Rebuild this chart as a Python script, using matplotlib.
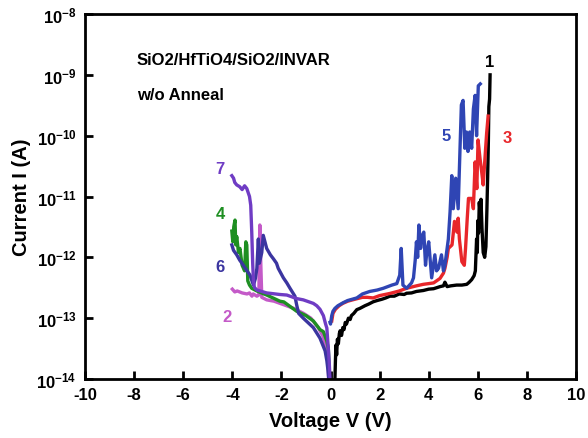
import numpy as np
import matplotlib
matplotlib.use("Agg")
import matplotlib.pyplot as plt

plt.rcParams['font.family'] = ['Liberation Sans', 'DejaVu Sans']
plt.rcParams['font.weight'] = 'bold'
plt.rcParams['mathtext.fontset'] = 'custom'
plt.rcParams['mathtext.bf'] = 'Liberation Sans:bold'
plt.rcParams['mathtext.rm'] = 'Liberation Sans:bold'

# curve 1 (black)
v1 = [0.18, 0.20, 0.22, 0.25, 0.28, 0.32, 0.36, 0.39, 0.45, 0.5, 0.55, 0.6, 0.65, 0.73,
      0.8, 0.85, 0.95, 1.07, 1.2, 1.4, 1.55, 1.74, 1.9, 2.1, 2.25, 2.42, 2.6, 2.8, 3.0,
      3.1, 3.3, 3.5, 3.78, 4.0, 4.2, 4.46, 4.6, 4.66, 4.75, 4.9, 5.14, 5.35, 5.55, 5.65,
      5.75, 5.85, 5.9, 5.95, 5.98, 6.0, 6.03, 6.06, 6.1, 6.13, 6.17, 6.22, 6.28, 6.33,
      6.37, 6.4, 6.43, 6.45, 6.48, 6.5]
i1 = [1.0e-14, 2.0e-14, 3.6e-14, 2.5e-14, 4.5e-14, 3.8e-14, 5.6e-14, 6.2e-14, 5.2e-14,
      7.0e-14, 6.5e-14, 8.5e-14, 8.0e-14, 1.0e-13, 9.5e-14, 1.1e-13, 1.2e-13, 1.38e-13,
      1.45e-13, 1.6e-13, 1.7e-13, 1.86e-13, 1.95e-13, 2.05e-13, 2.15e-13, 2.3e-13,
      2.3e-13, 2.5e-13, 2.45e-13, 2.57e-13, 2.6e-13, 2.75e-13, 2.85e-13, 3.0e-13, 3.05e-13,
      3.3e-13, 3.4e-13, 3.9e-13, 3.3e-13, 3.4e-13, 3.5e-13, 3.5e-13, 3.6e-13, 3.9e-13,
      4.3e-13, 5.0e-13, 6.0e-13, 2.0e-12, 1.2e-12, 4.0e-12, 2.5e-12, 8.0e-12, 5.0e-12,
      9.0e-12, 3.0e-12, 1.2e-12, 1.0e-12, 1.5e-12, 6.0e-12, 2.0e-11, 8.0e-11, 3.0e-10,
      4.0e-10, 1.0e-9]

# curve 3 (red)
v3 = [0.05, 0.1, 0.2, 0.35, 0.5, 0.7, 0.9, 1.1, 1.3, 1.5, 1.74, 2.0, 2.42, 2.8, 3.1, 3.5,
      3.78, 4.0, 4.2, 4.46, 4.6, 4.66, 4.75, 4.8, 4.95, 5.05, 5.15, 5.2, 5.25, 5.35, 5.45,
      5.5, 5.57, 5.62, 5.75, 5.82, 5.89, 5.96, 6.01, 6.09, 6.16, 6.22, 6.29, 6.36, 6.42]
i3 = [9e-14, 1.2e-13, 1.4e-13, 1.6e-13, 1.75e-13, 1.9e-13, 2.0e-13, 2.1e-13, 2.2e-13,
      2.2e-13, 2.15e-13, 2.35e-13, 2.55e-13, 2.8e-13, 3.1e-13, 3.4e-13, 3.6e-13, 3.7e-13,
      3.8e-13, 4.5e-13, 5.5e-13, 6.6e-13, 1.0e-12, 1.4e-12, 1.6e-12, 3.9e-12, 2.6e-12,
      4.4e-12, 2.0e-12, 8.5e-13, 7.4e-13, 1.4e-12, 4.4e-12, 9.3e-12, 9.3e-12, 6.3e-12,
      3.7e-11, 1.35e-11, 8.5e-11, 4.2e-11, 2.5e-11, 1.55e-11, 4.2e-11, 1.1e-10, 2.1e-10]

# curve 5 (blue)
v5 = [-0.02, 0.0, 0.05, 0.1, 0.18, 0.3, 0.52, 0.7, 1.07, 1.3, 1.6, 1.9, 2.15, 2.5, 2.7,
      2.82, 2.88, 2.95, 3.1, 3.3, 3.38, 3.45, 3.5, 3.55, 3.6, 3.67, 3.72, 3.8, 3.87, 3.93,
      4.0, 4.12, 4.25, 4.32, 4.4, 4.52, 4.6, 4.66, 4.8, 4.87, 4.94, 5.0, 5.1, 5.2, 5.33,
      5.4, 5.47, 5.54, 5.6, 5.67, 5.75, 5.82, 5.89, 5.95, 6.02, 6.1]
i5 = [8.5e-14, 8.0e-14, 1.1e-13, 1.3e-13, 1.45e-13, 1.6e-13, 1.8e-13, 1.95e-13, 2.15e-13,
      2.5e-13, 2.75e-13, 2.9e-13, 3.1e-13, 3.5e-13, 3.7e-13, 5.1e-13, 1.4e-12, 3.5e-13,
      3.1e-13, 3.8e-13, 4.6e-13, 9e-13, 1.8e-12, 1.0e-12, 3.4e-12, 1.4e-12, 2.2e-12,
      2.6e-12, 7.4e-13, 1.3e-12, 1.8e-12, 4.6e-13, 1.1e-12, 6.0e-13, 6.6e-13, 1.1e-12,
      6.0e-13, 7.4e-13, 2.0e-12, 5.6e-12, 2.2e-11, 6.3e-12, 2.0e-11, 6.3e-12, 3.2e-10,
      3.8e-10, 6.2e-11, 1.15e-10, 5.5e-11, 1.15e-10, 6.2e-11, 2.75e-10, 4.6e-10, 1.0e-10,
      6.6e-10, 7.1e-10]

# curve 2 (magenta)
v2 = [-4.0, -3.9, -3.8, -3.6, -3.4, -3.3, -3.2, -3.15, -3.0, -2.92, -2.88, -2.84, -2.8,
      -2.6, -2.3, -1.9, -1.5, -1.1, -0.8, -0.5, -0.3, -0.2, -0.12, -0.08]
i2 = [3.0e-13, 2.7e-13, 2.8e-13, 2.6e-13, 2.5e-13, 2.6e-13, 2.3e-13, 2.5e-13, 2.3e-13,
      2.4e-13, 3.4e-12, 8e-13, 2.2e-13, 2.0e-13, 1.9e-13, 1.66e-13, 1.45e-13, 1.2e-13,
      1.0e-13, 7e-14, 5e-14, 3.5e-14, 2.5e-14, 1.0e-14]

# curve 4 (green)
v4 = [-4.02, -3.98, -3.94, -3.89, -3.86, -3.82, -3.75, -3.69, -3.6, -3.5, -3.45, -3.41,
      -3.37, -3.3, -3.21, -3.0, -2.6, -2.06, -1.9, -1.38, -1.0, -0.7, -0.43, -0.29, -0.15,
      -0.09, -0.05]
i4 = [2.7e-12, 1.8e-12, 3.2e-12, 4.1e-12, 1.6e-12, 2.2e-12, 1.2e-12, 1.4e-12, 7.4e-13,
      6.0e-13, 1.8e-12, 1.6e-12, 4.1e-13, 3.5e-13, 3.1e-13, 2.8e-13, 2.4e-13, 1.9e-13,
      1.85e-13, 1.3e-13, 1.1e-13, 9e-14, 6.5e-14, 6e-14, 4.2e-14, 3.2e-14, 1.5e-14]

# curve 6 (indigo)
v6 = [-4.02, -3.95, -3.82, -3.7, -3.55, -3.4, -3.28, -3.14, -3.06, -3.0, -2.94, -2.9,
      -2.8, -2.74, -2.6, -2.45, -2.33, -2.2, -2.13, -1.92, -1.78, -1.65, -1.45, -1.38,
      -1.3, -1.11, -0.7, -0.43, -0.22, -0.15, -0.1, -0.07]
i6 = [1.6e-12, 1.3e-12, 1.1e-12, 9e-13, 7.4e-13, 6.0e-13, 5.1e-13, 3.5e-13, 4.5e-13,
      6.6e-13, 2.0e-12, 8e-13, 1.2e-12, 2.3e-12, 1.4e-12, 1.1e-12, 9.5e-13, 8e-13,
      6.6e-13, 4.6e-13, 3.8e-13, 3.1e-13, 2.3e-13, 1.66e-13, 1.2e-13, 1.0e-13, 7e-14,
      4.7e-14, 2.9e-14, 2.0e-14, 1.35e-14, 1.0e-14]

# curve 7 (purple)
v7 = [-4.02, -3.95, -3.9, -3.82, -3.7, -3.6, -3.5, -3.41, -3.3, -3.25, -3.21, -3.17,
      -3.14, -3.1, -3.0, -2.6, -2.06, -1.78, -1.38, -1.11, -0.7, -0.56, -0.43, -0.29,
      -0.2, -0.15, -0.09, -0.05, -0.02]
i7 = [2.2e-11, 2.0e-11, 1.7e-11, 1.55e-11, 1.45e-11, 1.3e-11, 1.5e-11, 1.35e-11, 1.0e-11,
      7.2e-12, 2.7e-12, 8e-13, 4.1e-13, 3.2e-13, 2.9e-13, 2.6e-13, 2.45e-13, 2.4e-13,
      2.1e-13, 2.0e-13, 1.75e-13, 1.6e-13, 1.4e-13, 1.1e-13, 8e-14, 6.9e-14, 3.2e-14,
      1.8e-14, 1.0e-14]

ytick_vals = [1e-14, 1e-13, 1e-12, 1e-11, 1e-10, 1e-9, 1e-8]
ytick_labels = [r'$\mathbf{10^{-14}}$', r'$\mathbf{10^{-13}}$', r'$\mathbf{10^{-12}}$',
                r'$\mathbf{10^{-11}}$', r'$\mathbf{10^{-10}}$', r'$\mathbf{10^{-9}}$',
                r'$\mathbf{10^{-8}}$']
xtick_vals = [-10, -8, -6, -4, -2, 0, 2, 4, 6, 8, 10]

fig = plt.figure(figsize=(5.88, 4.39), dpi=100)
ax = fig.add_axes([0.1446, 0.1344, 0.835, 0.8314])

lw = 2.4
ax.plot(v2, i2, color='#c45ac8', lw=lw)
ax.plot(v4, i4, color='#1e8f22', lw=lw)
ax.plot(v6, i6, color='#3b35a0', lw=lw)
ax.plot(v7, i7, color='#6f3cc4', lw=lw)
ax.plot(v1, i1, color='black', lw=lw)
ax.plot(v3, i3, color='#e8262a', lw=lw)
ax.plot(v5, i5, color='#2f45b4', lw=lw)

ax.set_yscale('log')
ax.set_xlim(-10, 10)
ax.set_ylim(1e-14, 1e-8)
ax.set_xticks(xtick_vals)
ax.set_xticklabels([str(v) for v in xtick_vals])
ax.set_yticks(ytick_vals)
ax.set_yticklabels(ytick_labels)
ax.minorticks_off()
ax.tick_params(direction='in', length=6, width=2, labelsize=12, pad=6)
for s in ax.spines.values():
    s.set_linewidth(2)

ax.set_xlabel('Voltage V (V)', fontsize=14.5, fontweight='bold', labelpad=6)
ax.set_ylabel('Current I (A)', fontsize=14.5, fontweight='bold', labelpad=4)

ax.text(-7.9, 1.5e-9, 'SiO2/HfTiO4/SiO2/INVAR', fontsize=12, fontweight='bold')
ax.text(-7.9, 4.0e-10, 'w/o Anneal', fontsize=12, fontweight='bold')

ax.text(6.5, 1.4e-9, '1', color='black', fontsize=12, fontweight='bold', ha='center')
ax.text(4.7, 0.85e-10, '5', color='#2f45b4', fontsize=12, fontweight='bold', ha='center')
ax.text(7.2, 0.8e-10, '3', color='#e8262a', fontsize=12, fontweight='bold', ha='center')
ax.text(-4.5, 2.4e-11, '7', color='#6f3cc4', fontsize=12, fontweight='bold', ha='center')
ax.text(-4.5, 4.5e-12, '4', color='#1e8f22', fontsize=12, fontweight='bold', ha='center')
ax.text(-4.5, 6.0e-13, '6', color='#3b35a0', fontsize=12, fontweight='bold', ha='center')
ax.text(-4.2, 0.9e-13, '2', color='#c45ac8', fontsize=12, fontweight='bold', ha='center')

fig.savefig('out.png', dpi=100)
